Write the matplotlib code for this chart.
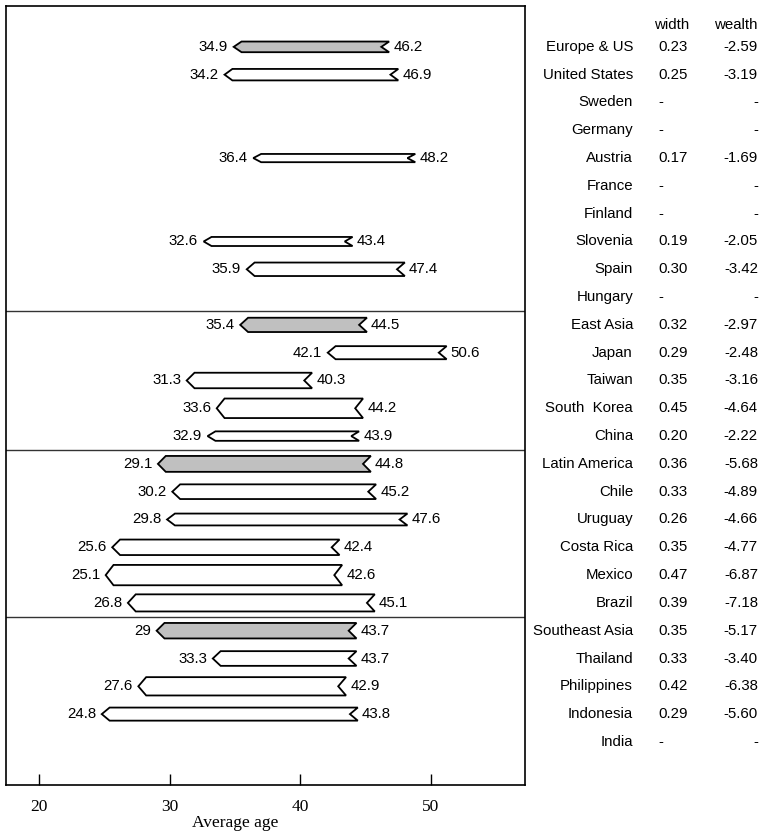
import matplotlib
matplotlib.use("Agg")
import matplotlib.pyplot as plt
import matplotlib.transforms as mtransforms
from matplotlib.patches import Polygon

countries = ["Europe & US", "United States", "Sweden", "Germany", "Austria", "France",
             "Finland", "Slovenia", "Spain", "Hungary", "East Asia", "Japan", "Taiwan",
             "South  Korea", "China", "Latin America", "Chile", "Uruguay", "Costa Rica",
             "Mexico", "Brazil", "Southeast Asia", "Thailand", "Philippines", "Indonesia",
             "India"]
start_age = [34.9, 34.2, None, None, 36.4, None, None, 32.6, 35.9, None,
             35.4, 42.1, 31.3, 33.6, 32.9,
             29.1, 30.2, 29.8, 25.6, 25.1, 26.8,
             29, 33.3, 27.6, 24.8, None]
end_age = [46.2, 46.9, None, None, 48.2, None, None, 43.4, 47.4, None,
           44.5, 50.6, 40.3, 44.2, 43.9,
           44.8, 45.2, 47.6, 42.4, 42.6, 45.1,
           43.7, 43.7, 42.9, 43.8, None]
width = [0.23, 0.25, None, None, 0.17, None, None, 0.19, 0.30, None,
         0.32, 0.29, 0.35, 0.45, 0.20,
         0.36, 0.33, 0.26, 0.35, 0.47, 0.39,
         0.35, 0.33, 0.42, 0.29, None]
wealth = ["-2.59", "-3.19", "-", "-", "-1.69", "-", "-", "-2.05", "-3.42", "-",
          "-2.97", "-2.48", "-3.16", "-4.64", "-2.22",
          "-5.68", "-4.89", "-4.66", "-4.77", "-6.87", "-7.18",
          "-5.17", "-3.40", "-6.38", "-5.60", "-"]
regions = ["Europe & US", "East Asia", "Latin America", "Southeast Asia"]
group_breaks = [9.5, 14.5, 20.5]

sans = ["Liberation Sans", "DejaVu Sans"]
serif = ["Liberation Serif", "DejaVu Serif"]
fs = 10.8

fig = plt.figure(figsize=(7.65, 8.38), dpi=100)
ax = fig.add_axes([6 / 765, 1 - 785 / 838, 519 / 765, 779 / 838])
ax.set_xlim(17.47, 57.2)
ax.set_ylim(26.55, -1.47)

tr = mtransforms.blended_transform_factory(fig.transFigure, ax.transData)

tip = 0.6
for i, name in enumerate(countries):
    s, e, w = start_age[i], end_age[i], width[i]
    if s is not None:
        h = (0.05 + 1.45 * w) / 2
        pts = [(s, i), (s + tip, i - h), (e + tip, i - h), (e, i),
               (e + tip, i + h), (s + tip, i + h)]
        fc = "#c0c0c0" if name in regions else "white"
        ax.add_patch(Polygon(pts, closed=True, fc=fc, ec="black", lw=1.3, zorder=3))
        ax.annotate(f"{s:g}", (s, i), xytext=(-4, 0), textcoords="offset points",
                    ha="right", va="center", fontsize=fs, family=sans)
        ax.annotate(f"{e:g}", (e + tip, i), xytext=(3, 0), textcoords="offset points",
                    ha="left", va="center", fontsize=fs, family=sans)
    # table on the right
    wtxt = "-" if w is None else f"{w:.2f}"
    ax.text(633 / 765, i, name, transform=tr, ha="right", va="center", fontsize=fs, family=sans)
    ax.text(658 / 765, i, wtxt, transform=tr, ha="left", va="center", fontsize=fs, family=sans)
    ax.text(758 / 765, i, wealth[i], transform=tr, ha="right", va="center", fontsize=fs, family=sans)
ax.text(672 / 765, -0.8, "width", transform=tr, ha="center", va="center", fontsize=fs, family=sans)
ax.text(758 / 765, -0.8, "wealth", transform=tr, ha="right", va="center", fontsize=fs, family=sans)

for b in group_breaks:
    ax.axhline(b, color="#333333", lw=1.0, zorder=2)

ax.set_yticks([])
ax.set_xticks([20, 30, 40, 50])
ax.tick_params(axis="x", direction="in", length=8, width=1, pad=10, labelsize=12.5)
for lab in ax.get_xticklabels():
    lab.set_family(serif)
for sp in ax.spines.values():
    sp.set_linewidth(1.2)
ax.text(35, -0.039, "Average age",
        transform=mtransforms.blended_transform_factory(ax.transData, ax.transAxes),
        ha="center", va="top", fontsize=12.5, family=serif)

fig.savefig("out.png", dpi=100)
